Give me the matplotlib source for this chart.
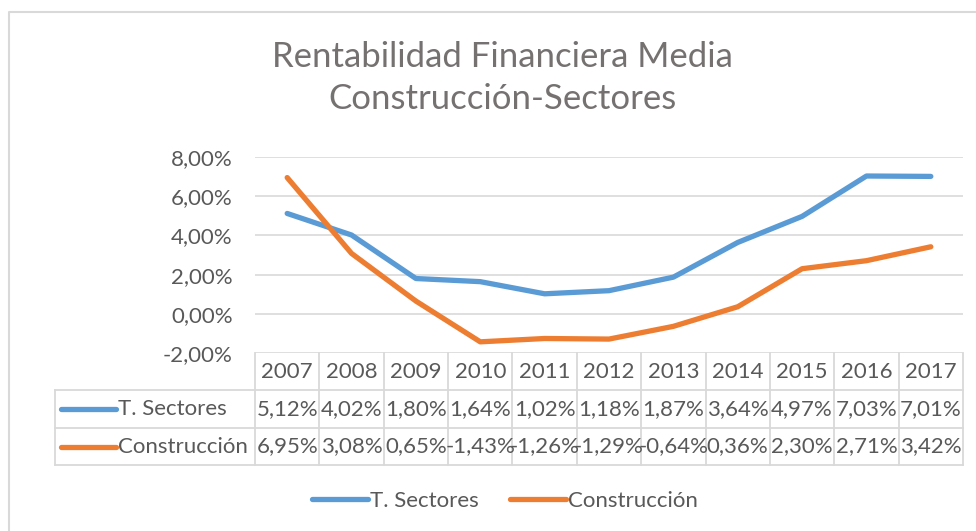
import matplotlib
matplotlib.use("Agg")
import matplotlib.pyplot as plt
from matplotlib.lines import Line2D
from matplotlib import transforms

plt.rcParams['font.family'] = ['Lato', 'DejaVu Sans']

years = ['2007', '2008', '2009', '2010', '2011', '2012', '2013', '2014', '2015', '2016', '2017']
sectores = [5.12, 4.02, 1.80, 1.64, 1.02, 1.18, 1.87, 3.64, 4.97, 7.03, 7.01]
construccion = [6.95, 3.08, 0.65, -1.43, -1.26, -1.29, -0.64, 0.36, 2.30, 2.71, 3.42]
series_names = ['T. Sectores', 'Construcción']
title = 'Rentabilidad Financiera Media\nConstrucción-Sectores'
yticks = [-2, 0, 2, 4, 6, 8]

BLUE = '#5B9BD5'
ORANGE = '#ED7D31'
GRID = '#D9D9D9'
TXT = '#595959'

W, H = 976, 531
fig = plt.figure(figsize=(W / 100, H / 100), dpi=100)

L, R, T, B = 255, 963, 157, 353
ax = fig.add_axes([L / W, 1 - B / H, (R - L) / W, (B - T) / H])
x = list(range(len(years)))
ax.set_xlim(-0.5, len(years) - 0.5)
ax.set_ylim(-2, 8)
ax.set_yticks(yticks)
ax.set_yticklabels([f"{v:.2f}%".replace('.', ',') for v in yticks])
ax.tick_params(axis='y', length=0, pad=16, labelsize=16, labelcolor=TXT)
ax.tick_params(axis='x', length=0, labelbottom=False)
ax.set_xticks([])
for s in ax.spines.values():
    s.set_visible(False)
ax.grid(axis='y', color=GRID, lw=1.2)
ax.set_axisbelow(True)

l1, = ax.plot(x, sectores, color=BLUE, lw=3.8, solid_capstyle='round', label=series_names[0])
l2, = ax.plot(x, construccion, color=ORANGE, lw=3.8, solid_capstyle='round', label=series_names[1])

# data table
ph = B - T
r1 = -37 / ph
r2 = -75 / ph
r3 = -112 / ph
lab_left = (55 - L) / (R - L)
bt = transforms.blended_transform_factory(ax.transData, ax.transAxes)
lw_t = 1.3
for i in range(len(years) + 1):
    ax.plot([i - 0.5, i - 0.5], [0, r3], transform=bt, color=GRID, lw=lw_t, clip_on=False)
ax.plot([lab_left, lab_left], [r1, r3], transform=ax.transAxes, color=GRID, lw=lw_t, clip_on=False)
for yy in (r1, r2, r3):
    ax.plot([lab_left, 1], [yy, yy], transform=ax.transAxes, color=GRID, lw=lw_t, clip_on=False)

fs_t = 16
for i, yr in enumerate(years):
    ax.text(i, r1 / 2, yr, transform=bt, ha='center', va='center', fontsize=fs_t, color=TXT)
for vals, ya, yb, col, name in ((sectores, r1, r2, BLUE, series_names[0]),
                                (construccion, r2, r3, ORANGE, series_names[1])):
    yc = (ya + yb) / 2
    for i, v in enumerate(vals):
        ax.text(i, yc, f"{v:.2f}%".replace('.', ','), transform=bt, ha='center', va='center',
                fontsize=fs_t, color=TXT)
    ax.plot([(61 - L) / (R - L), (116 - L) / (R - L)], [yc, yc], transform=ax.transAxes,
            color=col, lw=3.8, solid_capstyle='round', clip_on=False)
    ax.text((118 - L) / (R - L), yc, name, transform=ax.transAxes, ha='left', va='center',
            fontsize=fs_t, color=TXT)

# title
fig.text(502 / W, 1 - 78 / H, title, ha='center', va='center', fontsize=25, color='#757171',
         linespacing=1.4)

# legend
leg = fig.legend(handles=[l1, l2], loc='center', bbox_to_anchor=(505 / W, 1 - 501 / H), ncol=2,
                 frameon=False, fontsize=16, handlelength=2.5, handletextpad=0.1,
                 columnspacing=1.4, labelcolor=TXT)

# chart border (left and top)
fig.add_artist(Line2D([9 / W, 9 / W, 1], [0, 1 - 12 / H, 1 - 12 / H], transform=fig.transFigure,
                      color=GRID, lw=1.5))

fig.savefig('out.png', dpi=100, facecolor='white')
